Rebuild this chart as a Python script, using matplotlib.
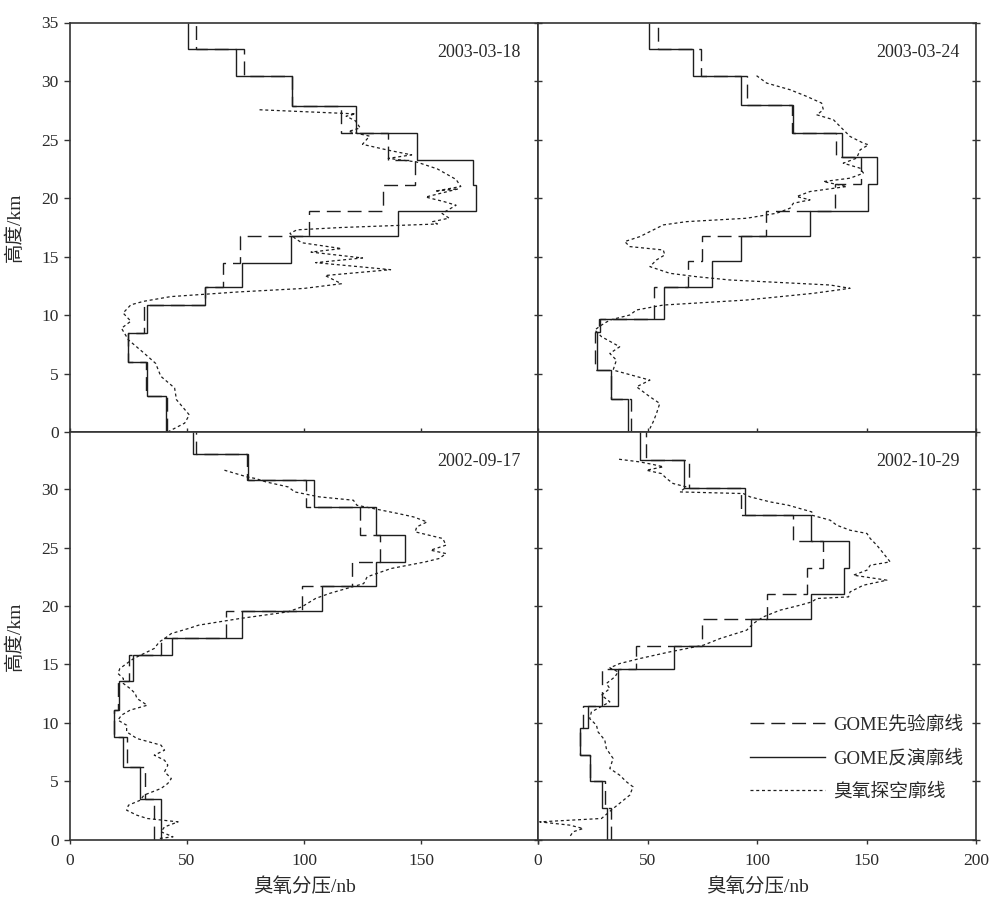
import matplotlib
matplotlib.use("Agg")
import matplotlib.pyplot as plt
from matplotlib.lines import Line2D

plt.rcParams['font.family'] = ['Liberation Serif', 'Noto Sans CJK SC', 'DejaVu Sans']

# ---------------- data ----------------
dates = ["2003-03-18", "2003-03-24", "2002-09-17", "2002-10-29"]
legend_labels = ["GOME先验廓线", "GOME反演廓线", "臭氧探空廓线"]
xlabel_text = "臭氧分压/nb"
ylabel_text = "高度/km"

# panel 1 (2003-03-18)
edges1 = [0, 3.1, 6.0, 8.5, 10.9, 12.4, 14.5, 16.75, 18.9, 21.1, 23.3, 25.6, 27.9, 30.4, 32.7, 35]
ret1 = [41.0, 32.7, 24.9, 32.7, 57.9, 73.3, 94.6, 140.0, 173.7, 172.3, 148.2, 122.4, 95.0, 70.8, 50.6]
apr1 = [41.3, 32.3, 24.9, 31.8, 57.9, 65.4, 72.6, 102.3, 133.8, 147.3, 136.0, 115.8, 95.0, 74.2, 53.8]
son1_h = [27.55, 27.2, 27.0, 26.6, 26.0, 25.7, 25.3, 24.6, 24.1, 23.7, 23.4, 23.1, 22.5, 21.6, 21.0,
          20.6, 20.8, 20.1, 19.7, 19.4, 18.7, 18.3, 18.0, 17.8, 17.5, 17.3, 17.0, 16.6, 16.2, 15.7,
          15.4, 14.9, 14.5, 13.9, 13.4, 12.7, 12.3, 12.0, 11.6, 11.2, 10.9, 10.2, 9.5, 8.9, 7.9,
          6.8, 5.9, 4.8, 3.8, 2.8, 1.5, 0.8, 0.05]
son1_v = [81, 122, 118, 122, 124, 119, 128, 125, 136, 146, 136, 148, 157, 165, 167,
          156, 166, 152, 160, 165, 159, 162, 155, 157, 116, 97, 94, 96, 99, 116,
          103, 125, 105, 137, 109, 116, 100, 72, 43, 31.5, 26, 22.7, 26, 22, 25,
          31.5, 36.6, 38.8, 44.7, 45.5, 51, 49, 41.8]

# panel 2 (2003-03-24)
edges2 = [0, 2.9, 5.3, 8.6, 9.7, 12.4, 14.6, 16.75, 18.9, 21.2, 23.5, 25.6, 28.0, 30.4, 32.7, 35]
ret2 = [41.1, 33.2, 27.1, 28.5, 57.6, 79.4, 92.5, 124.2, 150.6, 154.7, 138.8, 116.6, 92.5, 70.6, 50.6]
apr2 = [42.5, 33.2, 25.9, 27.9, 53.0, 68.7, 75.1, 104.0, 135.8, 147.5, 136.0, 116.0, 95.3, 74.5, 54.6]
son2_h = [30.46, 29.83, 29.26, 28.69, 28.12, 27.55, 27.12, 26.7, 25.98, 25.27, 24.7, 24.56, 24.13,
          23.42, 22.99, 22.56, 22.14, 21.71, 21.42, 21.0, 20.57, 20.14, 19.86, 19.57, 19.15, 18.72,
          18.29, 18.0, 17.72, 17.29, 16.72, 16.3, 15.87, 15.58, 15.16, 14.73, 14.16, 13.59, 13.3,
          13.02, 12.59, 12.31, 11.88, 11.31, 10.88, 10.46, 10.03, 9.6, 9.17, 8.75, 8.18, 7.32,
          6.75, 6.18, 5.33, 4.47, 3.9, 3.05, 2.48, 1.62, 0.91, 0.34]
son2_v = [99.8, 104.4, 115.1, 122.7, 129.5, 130.3, 127.3, 134.9, 138.7, 142.5, 148.6, 150.9, 147.1,
          145.5, 139.4, 147.1, 148.6, 142.5, 130.3, 141, 124.2, 118.1, 124.2, 116.6, 115.1, 109,
          95.3, 67.8, 57.2, 52.6, 46.5, 39.6, 41.9, 57.2, 57.9, 54.1, 51.1, 60.2, 72.4,
          87.6, 133.4, 142.5, 125.7, 95.3, 57.2, 45, 41.9, 32.8, 29, 25.9, 29, 37.3,
          32.8, 35.8, 34.3, 51.1, 45, 51.1, 55.6, 54.1, 52.6, 51.1]

# panel 3 (2002-09-17)
edges3 = [0, 3.51, 6.25, 8.79, 11.13, 13.56, 15.76, 17.3, 19.53, 21.72, 23.81, 26.06, 28.46, 30.77, 33.06, 34.86]
ret3 = [38.9, 29.8, 22.5, 18.8, 21.0, 27.0, 43.6, 73.4, 107.6, 130.9, 143.1, 130.9, 104.4, 75.9, 52.4]
apr3 = [35.7, 31.9, 24.2, 18.8, 20.5, 25.0, 39.0, 66.5, 99.1, 120.6, 132.4, 124.0, 101.0, 75.5, 53.9]
son3_h = [31.63, 31.06, 30.92, 30.63, 30.2, 29.77, 29.35, 29.06, 28.63, 27.92, 27.63, 27.2, 26.78,
          26.35, 25.78, 25.21, 24.78, 24.49, 24.07, 23.78, 23.21, 22.5, 21.92, 21.5, 21.07, 20.64,
          19.93, 19.5, 18.93, 18.36, 18.07, 17.64, 17.21, 16.93, 16.36, 15.93, 15.5, 15.07, 14.64,
          14.22, 13.79, 13.36, 12.93, 12.5, 12.08, 11.5, 11.08, 10.65, 10.22, 9.79, 9.22, 8.65,
          8.08, 7.65, 7.22, 6.79, 6.37, 5.8, 5.22, 4.8, 4.37, 3.8, 3.37, 2.94, 2.51, 2.08, 1.8,
          1.51, 1.08, 0.66, 0.23, 0.09]
son3_v = [66.0, 75.6, 79.3, 83.7, 93.2, 96.1, 106.4, 121.1, 122.6, 140.2, 146.8, 152.6, 148.2,
          147.5, 159.3, 160.7, 154.1, 160.7, 157.8, 151.9, 137.2, 127, 125.5, 118.2, 110.8, 104.9,
          99.1, 93.2, 72.7, 55.0, 50.6, 43.3, 40.4, 38.2, 36, 31.6, 27.2, 24.2, 21.3,
          20.5, 22.8, 22.8, 25.7, 27.9, 28.6, 33, 25.7, 22, 20.5, 24.2, 24.2, 28.6,
          38.9, 40.4, 36, 40.4, 41.8, 40.4, 43.3, 41.8, 38.9, 31.6, 30.1, 25, 24.2, 28.6, 33,
          46.2, 40.4, 38.9, 44, 38.2]

# panel 4 (2002-10-29)
edges4 = [0, 2.71, 5.05, 7.28, 9.51, 11.42, 14.64, 16.61, 18.87, 21.07, 23.27, 25.58, 27.78, 30.12, 32.54, 34.86]
ret4 = [31.6, 29.4, 23.6, 19.4, 22.9, 36.6, 62.3, 97.1, 124.7, 139.9, 142.2, 124.7, 94.7, 66.6, 46.5]
apr4 = [33.5, 30.5, 23.6, 19.4, 20.6, 29.0, 44.7, 74.8, 104.4, 122.7, 130.3, 116.6, 92.5, 68.8, 49.5]
son4_h = [32.57, 32.34, 32.12, 31.92, 31.63, 31.34, 30.92, 30.49, 30.2, 29.77, 29.63, 29.35, 28.92,
          28.63, 28.06, 27.78, 27.35, 26.92, 26.49, 26.21, 25.78, 25.21, 24.49, 23.78, 23.49, 23.07,
          22.64, 22.21, 21.78, 21.21, 20.78, 20.64, 20.35, 20.07, 19.64, 19.07, 18.5, 17.93, 17.21,
          16.64, 16.07, 15.5, 15.07, 14.7, 14.36, 13.93, 13.36, 12.93, 12.36, 11.79, 10.93, 10.36,
          9.79, 9.22, 8.51, 7.79, 6.94, 6.08, 5.51, 4.94, 4.51, 3.8, 2.65, 1.8, 1.51, 1.23, 0.94,
          0.66, 0.23]
son4_v = [37, 46.5, 52.6, 57.2, 49.5, 56.4, 58.7, 61.7, 67.8, 64.8, 93.8, 96.8, 105.9,
          114.3, 125, 125, 133.4, 136.4, 142.5, 150.2, 151.7, 154.7, 157.8, 160.8, 151.7, 150.2,
          144, 159.3, 148.6, 142.5, 141.8, 127.3, 125, 119.7, 110.5, 102.9, 98.3, 95.3, 83.1,
          75.5, 60.2, 46.5, 37.3, 32.8, 36.6, 35.1, 31.2, 32.8, 29, 32.8, 24.4, 23.6,
          26.7, 27.4, 30.5, 31.2, 34.3, 32.8, 37.3, 40.4, 43.4, 41.9, 34.3, 29, 0.8, 14.5, 20.6,
          16, 14.5]

panels = [
    (edges1, ret1, apr1, son1_h, son1_v),
    (edges2, ret2, apr2, son2_h, son2_v),
    (edges3, ret3, apr3, son3_h, son3_v),
    (edges4, ret4, apr4, son4_h, son4_v),
]

# ---------------- figure ----------------
W, H = 991, 899
fig = plt.figure(figsize=(W / 100, H / 100), dpi=100)
L, M, R = 70 / W, 538 / W, 976 / W
T, C, B = 1 - 22.5 / H, 1 - 432.5 / H, 1 - 839.5 / H
rects = [[L, C, M - L, T - C], [M, C, R - M, T - C],
         [L, B, M - L, C - B], [M, B, R - M, C - B]]
ylims = [(0, 35), (0, 35), (0, 34.86), (0, 34.86)]

LC = '#1e1e1e'
TC = '#2a2a2a'
DASH = (0, (10, 5))
DOT = (0, (2.4, 2.2))
axes = []
for i, (rect, (edges, ret, apr, sh, sv)) in enumerate(zip(rects, panels)):
    ax = fig.add_axes(rect)
    axes.append(ax)
    ax.stairs(apr, edges, orientation='horizontal', baseline=None,
              color=LC, lw=1.0, linestyle=DASH)
    ax.stairs(ret, edges, orientation='horizontal', baseline=None,
              color=LC, lw=1.0, linestyle='-')
    ax.plot(sv, sh, color=LC, lw=0.9, linestyle=DOT)
    ax.set_xlim(0, 200)
    ax.set_ylim(*ylims[i])
    ax.set_xticks([0, 50, 100, 150, 200])
    ax.set_yticks(list(range(0, 36, 5)) if i < 2 else list(range(0, 31, 5)))
    for s in ax.spines.values():
        s.set_linewidth(1.2)
        s.set_color('#333333')
    ax.text(0.962, 0.928, dates[i], transform=ax.transAxes, ha='right', va='center',
            fontsize=13, color=TC)
    left = (i % 2 == 0)
    bottom = (i >= 2)
    ax.tick_params(axis='both', labelsize=12.5, colors='#333333', labelcolor=TC, width=1.0)
    ax.tick_params(axis='y', left=True, right=True, labelleft=left, labelright=False)
    if left:
        ax.tick_params(axis='y', direction='out', length=4.5, pad=3.5)
    else:
        ax.tick_params(axis='y', direction='inout', length=6)
    ax.tick_params(axis='x', top=False, bottom=True, labelbottom=bottom)
    if bottom:
        ax.tick_params(axis='x', direction='out', length=3, pad=7)
    else:
        ax.tick_params(axis='x', direction='inout', length=6)
    if left and bottom:
        ax.set_xticks([0, 50, 100, 150, 200], ['0', '50', '100', '150', ''])

# left panels: crossing ticks on the shared border come from the right panels
for ax in (axes[0], axes[2]):
    ax.tick_params(axis='y', right=False)

# legend
handles = [Line2D([], [], color=LC, lw=1.0, linestyle=DASH),
           Line2D([], [], color=LC, lw=1.0, linestyle='-'),
           Line2D([], [], color=LC, lw=0.9, linestyle=DOT)]
leg = axes[3].legend(handles, legend_labels, loc='center left', bbox_to_anchor=(0.484, 0.199),
                     frameon=False, fontsize=13.5, handlelength=4.0, handletextpad=0.45,
                     labelspacing=0.85, borderpad=0, borderaxespad=0)
for t in leg.get_texts():
    t.set_color(TC)

# axis labels
fig.text(15 / W, (T + C) / 2, ylabel_text, rotation=90, ha='center', va='center', fontsize=14, color=TC)
fig.text(15 / W, (C + B) / 2, ylabel_text, rotation=90, ha='center', va='center', fontsize=14, color=TC)
fig.text((L + M) / 2, 1 - 887 / H, xlabel_text, ha='center', va='center', fontsize=14, color=TC)
fig.text((M + R) / 2, 1 - 887 / H, xlabel_text, ha='center', va='center', fontsize=14, color=TC)

fig.savefig('out.png', dpi=100)
